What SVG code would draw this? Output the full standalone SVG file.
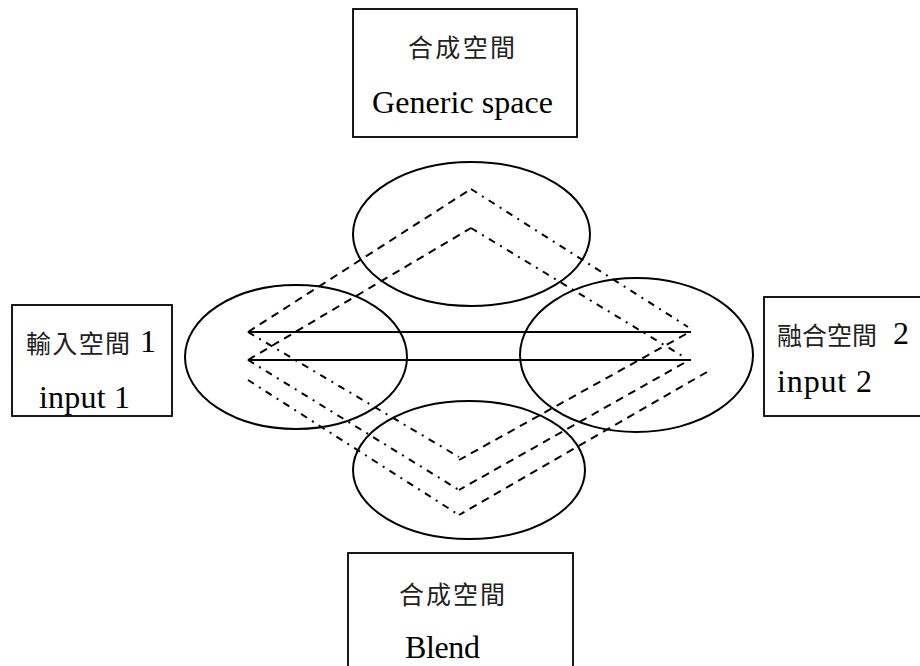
<svg xmlns="http://www.w3.org/2000/svg" width="920" height="666" viewBox="0 0 920 666">
<style>
.box{fill:#fff;stroke:#000;stroke-width:1.8}
.ell{fill:none;stroke:#000;stroke-width:2}
.cjk{font-family:"Liberation Serif","Noto Sans CJK TC",serif;font-size:25px;fill:#222}
.en{font-family:"Liberation Serif",serif;font-size:32px;fill:#000}
.solid{stroke:#000;stroke-width:2;fill:none}
.dash{stroke:#000;stroke-width:2;fill:none;stroke-dasharray:8 6}
.dashdot{stroke:#000;stroke-width:2;fill:none;stroke-dasharray:7 6 2 6}
</style>
<defs>
<clipPath id="clipL"><rect x="13" y="306" width="158" height="109"/></clipPath>
</defs>
<rect width="920" height="666" fill="#fff"/>

<g id="generic-box">
<rect class="box" x="353" y="9" width="224" height="128"/>
<text class="cjk" x="408" y="57" textLength="107" lengthAdjust="spacing">合成空間</text>
<text class="en" x="372" y="113" textLength="181" lengthAdjust="spacing">Generic space</text>
</g>

<g id="input1-box">
<rect class="box" x="12" y="305" width="160" height="111"/>
<g clip-path="url(#clipL)">
<text class="cjk" x="26" y="353" textLength="104" lengthAdjust="spacing">輸入空間</text>
<text class="en" x="140" y="352" font-size="29">1</text>
<text class="en" x="39" y="408" textLength="91" lengthAdjust="spacing">input 1</text>
</g>
</g>

<g id="input2-box">
<rect class="box" x="764" y="297" width="170" height="119"/>
<text class="cjk" x="777" y="345" textLength="100" lengthAdjust="spacing">融合空間</text>
<text class="en" x="893" y="344" font-size="29">2</text>
<text class="en" x="777" y="392" textLength="95" lengthAdjust="spacing">input 2</text>
</g>

<g id="blend-box">
<rect class="box" x="348" y="553" width="225" height="130"/>
<text class="cjk" x="399" y="604" textLength="106" lengthAdjust="spacing">合成空間</text>
<text class="en" x="405" y="658" textLength="75" lengthAdjust="spacing">Blend</text>
</g>

<g id="ellipse-generic"><ellipse class="ell" cx="471.5" cy="234" rx="118.5" ry="72"/></g>
<g id="ellipse-input1"><ellipse class="ell" cx="296" cy="357" rx="111" ry="72"/></g>
<g id="ellipse-input2"><ellipse class="ell" cx="636.5" cy="355" rx="116.5" ry="77"/></g>
<g id="ellipse-blend"><ellipse class="ell" cx="469" cy="470" rx="116" ry="69"/></g>

<g id="connectors">
<line class="solid" x1="248" y1="332" x2="691" y2="332"/>
<line class="solid" x1="248" y1="360" x2="691" y2="360"/>

<line class="dash" x1="248" y1="332" x2="471" y2="189"/>
<line class="dashdot" x1="471" y1="189" x2="688" y2="327"/>
<line class="dash" x1="686" y1="334" x2="459" y2="460"/>
<line class="dashdot" x1="248" y1="332" x2="459" y2="457"/>

<line class="dash" x1="248" y1="360" x2="471" y2="228"/>
<line class="dashdot" x1="471" y1="228" x2="684" y2="357"/>
<line class="dash" x1="684" y1="363" x2="459" y2="490"/>
<line class="dashdot" x1="248" y1="360" x2="459" y2="490"/>

<line class="dashdot" x1="248" y1="380" x2="459" y2="515"/>
<line class="dash" x1="707" y1="372" x2="459" y2="515"/>
</g>
</svg>
